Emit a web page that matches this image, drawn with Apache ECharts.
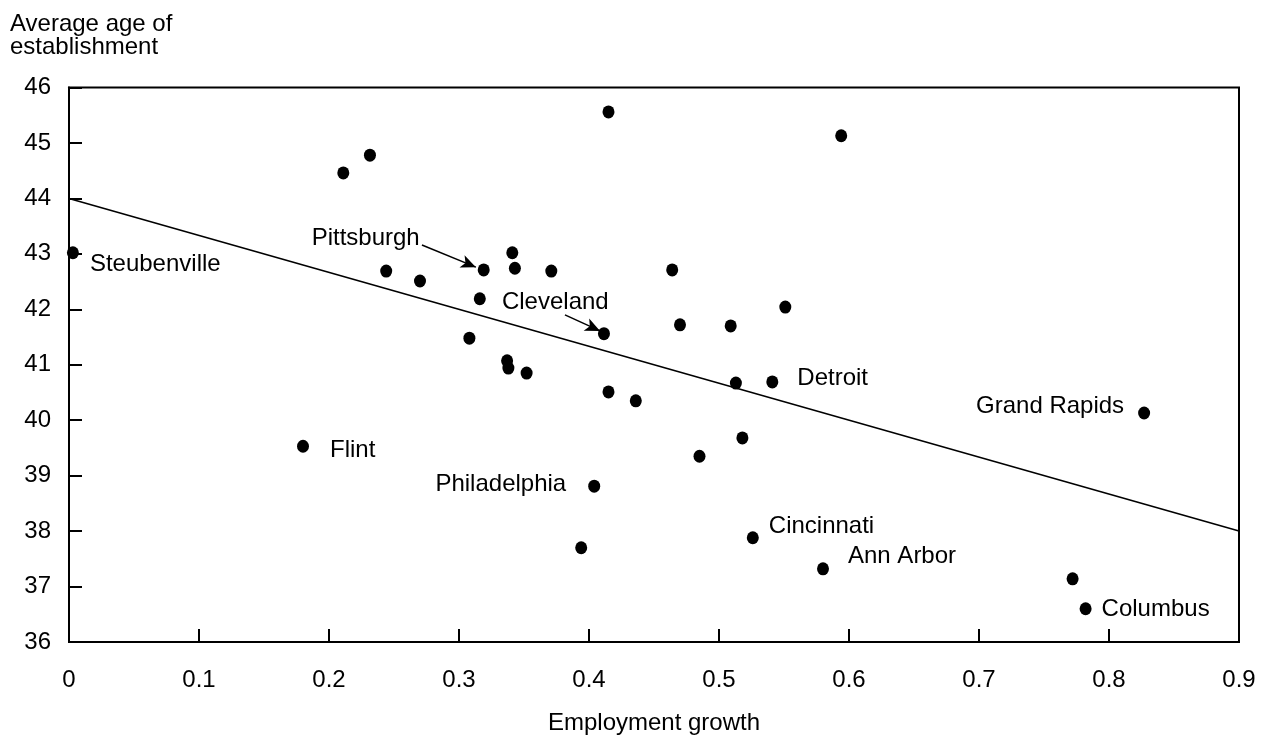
<!DOCTYPE html>
<html>
<head>
<meta charset="utf-8">
<script src="https://cdn.jsdelivr.net/npm/echarts@6/dist/echarts.min.js"></script>
<style>
  html, body { margin: 0; padding: 0; background: #fff; }
  #chart { width: 1268px; height: 740px; }
</style>
</head>
<body>
<div id="chart"></div>
<script>
// ---- data ----
const growth = [0.003, 0.211, 0.2315, 0.415, 0.594, 0.244, 0.270, 0.319, 0.341, 0.343,
                0.371, 0.464, 0.316, 0.4115, 0.470, 0.509, 0.551, 0.308, 0.337, 0.338,
                0.352, 0.415, 0.436, 0.513, 0.541, 0.518, 0.485, 0.404, 0.394, 0.526,
                0.580, 0.772, 0.782, 0.827, 0.180];
const age = [43.02, 44.46, 44.78, 45.56, 45.13, 42.69, 42.51, 42.71, 43.02, 42.74,
             42.69, 42.71, 42.19, 41.56, 41.72, 41.70, 42.04, 41.48, 41.07, 40.94,
             40.85, 40.51, 40.35, 40.67, 40.69, 39.68, 39.35, 38.81, 37.70, 37.88,
             37.32, 37.14, 36.60, 40.13, 39.53];
const city = ['Steubenville', '', '', '', '', '', '', 'Pittsburgh', '', '',
              '', '', '', 'Cleveland', '', '', '', '', '', '',
              '', '', '', '', 'Detroit', '', '', 'Philadelphia', '', 'Cincinnati',
              'Ann Arbor', '', 'Columbus', 'Grand Rapids', 'Flint'];
const trendX = [0, 0.9];
const trendY = [44.0, 38.0];
// annotation arrows (data space): from label to point
const arrowFrom = [[0.2715, 43.16], [0.3815, 41.90]];
const arrowTo   = [[0.3130, 42.76], [0.4085, 41.61]];
const xTickLabels = ['0', '0.1', '0.2', '0.3', '0.4', '0.5', '0.6', '0.7', '0.8', '0.9'];
const yTickLabels = ['36', '37', '38', '39', '40', '41', '42', '43', '44', '45', '46'];

// ---- label layout (styles) ----
const labelLayout = {
  'Steubenville': { align: 'left',  offset: [17, 12] },
  'Flint':        { align: 'left',  offset: [27, 4] },
  'Philadelphia': { align: 'right', offset: [-28, -2] },
  'Cincinnati':   { align: 'left',  offset: [16, -11] },
  'Ann Arbor':    { align: 'left',  offset: [25, -12] },
  'Columbus':     { align: 'left',  offset: [16, 1] },
  'Grand Rapids': { align: 'right', offset: [-20, -7] },
  'Detroit':      { align: 'left',  offset: [25, -4] },
  'Pittsburgh':   { align: 'right', offset: [-64, -32] },
  'Cleveland':    { align: 'left',  offset: [-102, -31] }
};

const FONT = "'Liberation Sans', Arial, Helvetica, sans-serif";
const FS = 24;

const points = growth.map((g, i) => {
  const item = { name: city[i], value: [g, age[i]] };
  const lay = labelLayout[city[i]];
  if (lay) {
    item.label = {
      show: true, position: 'inside', formatter: '{b}',
      align: lay.align, verticalAlign: 'middle', offset: lay.offset,
      color: '#000', fontSize: FS, fontFamily: FONT, opacity: 1
    };
  }
  return item;
});

const chart = echarts.init(document.getElementById('chart'), null, { renderer: 'canvas' });
chart.setOption({
  backgroundColor: '#fff',
  animation: false,
  textStyle: { fontFamily: FONT, color: '#000' },
  grid: {
    left: 69, right: 29, top: 87.5, bottom: 98,
    containLabel: false, outerBoundsMode: 'none',
    show: true, borderColor: '#000', borderWidth: 2, backgroundColor: 'transparent'
  },
  xAxis: {
    type: 'value', min: 0, max: 0.9, interval: 0.1,
    name: 'Employment growth', nameLocation: 'middle', nameGap: 69,
    nameTextStyle: { fontSize: FS, color: '#000', fontFamily: FONT },
    axisLine: { show: true, onZero: false, lineStyle: { color: '#000', width: 2 } },
    axisTick: { show: true, inside: true, length: 13, lineStyle: { color: '#000', width: 2 } },
    axisLabel: {
      margin: 26, fontSize: FS, color: '#000', fontFamily: FONT,
      formatter: (v) => xTickLabels[Math.round(v * 10)]
    },
    splitLine: { show: false }
  },
  yAxis: {
    type: 'value', min: 36, max: 46, interval: 1,
    name: 'Average age of\nestablishment', nameLocation: 'end', nameGap: 29,
    nameTextStyle: { fontSize: FS, lineHeight: 23, color: '#000', fontFamily: FONT,
                     align: 'left', padding: [0, 0, 0, -59] },
    axisLine: { show: true, onZero: false, lineStyle: { color: '#000', width: 2 } },
    axisTick: { show: true, inside: true, length: 13, lineStyle: { color: '#000', width: 2 } },
    axisLabel: {
      margin: 18, fontSize: FS, color: '#000', fontFamily: FONT,
      formatter: (v) => yTickLabels[Math.round(v - 36)]
    },
    splitLine: { show: false }
  },
  series: [
    {
      type: 'line',
      data: trendX.map((x, i) => [x, trendY[i]]),
      symbol: 'none',
      lineStyle: { color: '#000', width: 1.6 },
      silent: true,
      z: 2
    },
    {
      type: 'scatter',
      data: points,
      symbol: 'circle',
      symbolSize: [12, 13],
      itemStyle: { color: '#000', opacity: 1 },
      z: 3,
      markLine: {
        silent: true,
        symbol: ['none', 'arrow'],
        symbolSize: [10, 15],
        label: { show: false },
        lineStyle: { color: '#000', width: 1.5, type: 'solid', opacity: 1 },
        data: arrowFrom.map((f, i) => [{ coord: f }, { coord: arrowTo[i] }])
      }
    }
  ]
});
</script>
</body>
</html>
